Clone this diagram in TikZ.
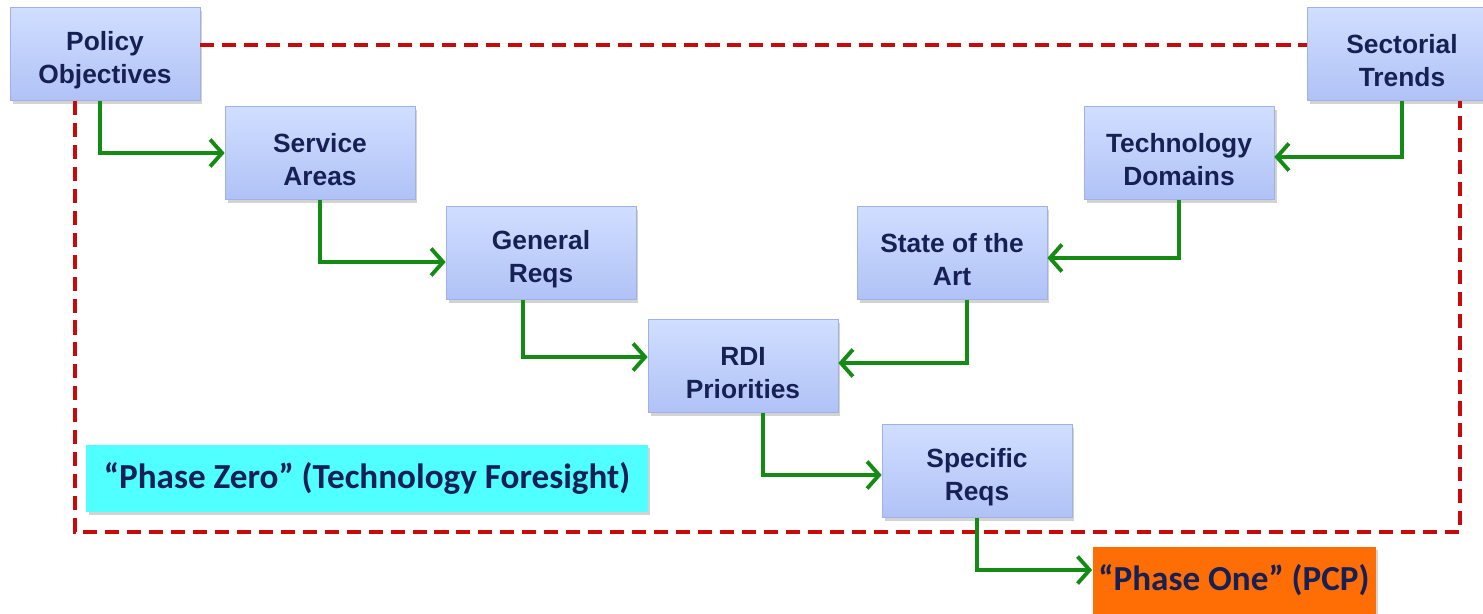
\documentclass[tikz,border=0pt]{standalone}
\usepackage{fontspec}
\setmainfont{Liberation Sans}
\newfontfamily\calibri{Carlito}
\usetikzlibrary{arrows.meta,shadows}

\definecolor{boxtop}{RGB}{208,222,255}
\definecolor{boxbot}{RGB}{176,194,246}
\definecolor{boxline}{RGB}{160,178,228}
\definecolor{navy}{RGB}{22,32,84}
\definecolor{flowgreen}{RGB}{20,140,20}
\definecolor{framered}{RGB}{200,10,10}
\definecolor{phasecyan}{RGB}{80,255,255}
\definecolor{phaseorange}{RGB}{255,110,5}

\begin{document}
\begin{tikzpicture}[x=0.02cm, y=-0.02cm,
    stage/.style={draw=boxline, top color=boxtop, bottom color=boxbot,
        minimum width=3.8cm, minimum height=1.86cm, align=center,
        text=navy, font=\fontsize{15}{18.8}\selectfont\bfseries,
        text height=37pt,
        drop shadow={shadow xshift=0.05cm, shadow yshift=-0.07cm, opacity=0.35}},
    phase/.style={draw=none, minimum height=1.34cm, text=navy,
        font=\calibri\fontsize{20}{24}\selectfont\bfseries,
        drop shadow={shadow xshift=0.05cm, shadow yshift=-0.07cm, opacity=0.35}},
    flow/.style={draw=flowgreen, line width=2.2pt,
        -{Straight Barb[length=2.4mm,width=5.4mm,line width=2.2pt]}},
    frame/.style={draw=framered, line width=2.2pt, dash pattern=on 8pt off 4.5pt}]

    \useasboundingbox (0,0) rectangle (1483,613);
    \clip (0,0) rectangle (1483,613);

    % Left branch
    \node[stage] (policy)   at (105,54)  {Policy\\Objectives};
    \node[stage] (service)  at (320,153) {Service\\Areas};
    \node[stage] (general)  at (541,253) {General\\Reqs};

    % Right branch
    \node[stage] (sectoral) at (1402,54)  {Sectorial\\Trends};
    \node[stage] (techdom)  at (1179,153) {Technology\\Domains};
    \node[stage] (stateart) at (952,253)  {State of the\\Art};

    % Bottom of the V
    \node[stage] (rdi)      at (743,366) {RDI\\Priorities};
    \node[stage] (specific) at (977,471) {Specific\\Reqs};

    % Phase labels
    \node[phase, fill=phasecyan, minimum width=11.24cm] (phasezero) at (367,478)
        {\char"201C Phase Zero\char"201D{} (Technology Foresight)};
    \node[phase, fill=phaseorange, minimum width=5.5cm] (phaseone) at (1234,580)
        {\char"201C Phase One\char"201D{} (PCP)};

    % Dashed frame
    \coordinate (fbl) at (75,532);
    \coordinate (fbr) at (1460,532);
    \draw[frame] ([yshift=0.18cm]policy.east) -- ([yshift=0.18cm]sectoral.west);
    \draw[frame] (policy.south -| fbl) -- (fbl) -- (fbr) -- (sectoral.south -| fbr);

    % Arrows
    \draw[flow] ([xshift=-0.1cm]policy.south) |- (service.west);
    \draw[flow] (service.south) |- ([yshift=-0.18cm]general.west);
    \draw[flow] ([xshift=-0.36cm]general.south) |- ([yshift=0.18cm]rdi.west);
    \draw[flow] ([xshift=0.4cm]rdi.south) |- ([yshift=-0.08cm]specific.west);
    \draw[flow] (specific.south) |- ([yshift=0.2cm]phaseone.west);
    \draw[flow] (sectoral.south) |- ([yshift=-0.08cm]techdom.east);
    \draw[flow] (techdom.south) |- ([yshift=-0.1cm]stateart.east);
    \draw[flow] ([xshift=0.3cm]stateart.south) |- ([yshift=0.06cm]rdi.east);
\end{tikzpicture}
\end{document}
